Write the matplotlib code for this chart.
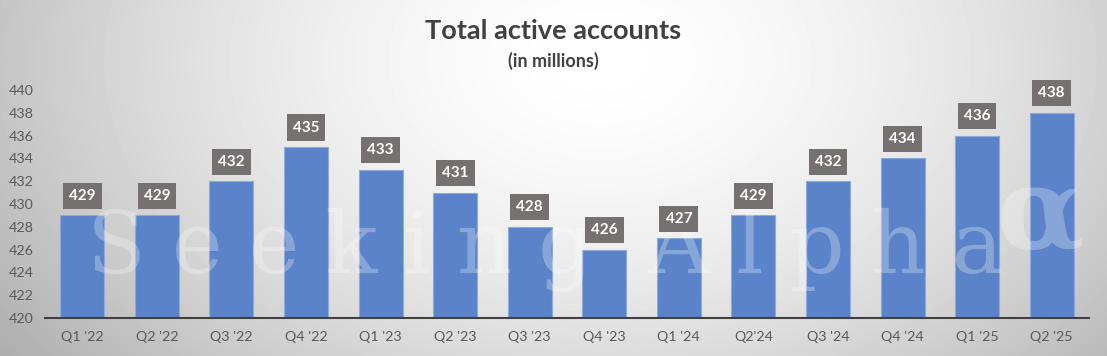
import numpy as np
import matplotlib.pyplot as plt

quarters = ["Q1 '22", "Q2 '22", "Q3 '22", "Q4 '22", "Q1 '23", "Q2 '23", "Q3 '23",
            "Q4 '23", "Q1 '24", "Q2'24", "Q3 '24", "Q4 '24", "Q1 '25", "Q2 '25"]
accounts = [429, 429, 432, 435, 433, 431, 428, 426, 427, 429, 432, 434, 436, 438]

plt.rcParams['font.family'] = ['Lato', 'DejaVu Sans']

fig = plt.figure(figsize=(11.07, 3.56), dpi=100)

# radial grey background
bg = fig.add_axes([0, 0, 1, 1], zorder=-10)
yy, xx = np.mgrid[0:356, 0:1107]
d = np.sqrt(((xx - 600) / 620.0) ** 2 + ((yy - 60) / 420.0) ** 2)
shade = 1.0 - 0.24 * np.clip(d, 0, 1.2) ** 1.6
bg.imshow(shade, cmap='gray', vmin=0, vmax=1, aspect='auto', extent=[0, 1, 0, 1])
bg.axis('off')

ax = fig.add_axes([0.0407, 0.1067, 0.943, 0.6405])
ax.patch.set_alpha(0)

x = np.arange(len(quarters))
ax.bar(x, [v - 420 for v in accounts], bottom=420, width=0.59,
       color='#5b83c9', edgecolor='#8eaadb', linewidth=0.8, zorder=2)

for xi, v in zip(x, accounts):
    ax.annotate(str(v), (xi, v), xytext=(0, 14), textcoords='offset points',
                ha='center', va='center', color='white', fontsize=11,
                fontweight='bold', zorder=5,
                bbox=dict(boxstyle='square,pad=0.4', fc='#767171', ec='none'))

ax.set_xlim(-0.5, len(quarters) - 0.5)
ax.set_ylim(420, 440)
ax.set_yticks(range(420, 441, 2))
ax.set_xticks(x)
ax.set_xticklabels(quarters)
ax.tick_params(axis='both', length=0, labelsize=10.3, labelcolor='#595959')
ax.tick_params(axis='x', pad=9)
ax.tick_params(axis='y', pad=26)
for lab in ax.get_yticklabels():
    lab.set_horizontalalignment('left')
for s in ['top', 'right', 'left']:
    ax.spines[s].set_visible(False)
ax.spines['bottom'].set_color('#404040')
ax.spines['bottom'].set_linewidth(1.5)
ax.spines['bottom'].set_zorder(3)

# watermark (above bars, below labels)
ts = '\u2009\u200a'
ax.text(0.492, 0.232, ts.join('Seeking') + '  ' + ts.join('Alpha'),
        transform=fig.transFigure, family='DejaVu Serif', fontsize=62,
        color='white', alpha=0.28, ha='center', va='baseline', zorder=3,
        clip_on=False)
ax.text(0.9, 0.39, '\u03b1', transform=fig.transFigure,
        family='DejaVu Serif', fontsize=82, fontweight='bold', color='white',
        alpha=0.28, ha='left', va='center', zorder=3, clip_on=False)

fig.text(0.5, 0.912, 'Total active accounts', ha='center', va='center',
         fontsize=19.5, fontweight='bold', color='#404040')
fig.text(0.5, 0.83, '(in millions)', ha='center', va='center',
         fontsize=13, fontweight='bold', color='#404040')

fig.savefig('out.png', dpi=100)
